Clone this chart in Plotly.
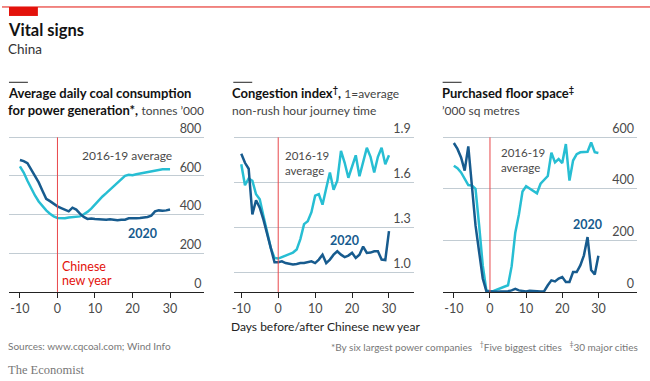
import plotly.graph_objects as go

# ---------------- data ----------------
days = [-10, -9, -8, -7, -6, -5, -4, -3, -2, -1, 0,
        1, 2, 3, 4, 5, 6, 7, 8, 9, 10,
        11, 12, 13, 14, 15, 16, 17, 18, 19, 20,
        21, 22, 23, 24, 25, 26, 27, 28, 29, 30]
cny_day = 0

coal_avg = [650, 618, 575, 533, 499, 468, 443, 422, 405, 391, 383,
            383, 381, 385, 386, 388, 391, 402, 414, 431, 453,
            473, 494, 511, 528, 550, 567, 584, 601, 606, 604,
            609, 613, 614, 621, 623, 630, 633, 635, 635, 635]
coal_2020 = [683, 677, 666, 635, 601, 567, 524, 482, 470, 456, 443,
             434, 426, 417, 436, 426, 405, 388, 378, 380, 378,
             376, 373, 374, 376, 374, 371, 373, 374, 381, 380,
             381, 383, 386, 388, 395, 417, 422, 420, 422, 427]

cong_avg = [1.72, 1.58, 1.625, 1.61, 1.52, 1.486, 1.374, 1.26, 1.16, 1.094, 1.09,
            1.10, 1.11, 1.12, 1.13, 1.15, 1.22, 1.32, 1.34, 1.40, 1.51,
            1.52, 1.45, 1.56, 1.665, 1.55, 1.61, 1.81, 1.73, 1.63, 1.71,
            1.78, 1.64, 1.73, 1.83, 1.77, 1.665, 1.77, 1.83, 1.72, 1.78]
cong_2020 = [1.79, 1.73, 1.69, 1.385, 1.48, 1.43, 1.35, 1.26, 1.16, 1.065, 1.065,
             1.072, 1.06, 1.056, 1.05, 1.054, 1.06, 1.06, 1.065, 1.072, 1.06,
             1.083, 1.116, 1.06, 1.083, 1.116, 1.139, 1.116, 1.10, 1.11, 1.128,
             1.094, 1.116, 1.17, 1.128, 1.13, 1.139, 1.139, 1.083, 1.08, 1.273]

floor_avg = [490, 480, 464, 441, 415, 413, 400, 258, 103, 6, 3,
             4, 10, 17, 21, 26, 100, 230, 300, 390, 410,
             400, 392, 383, 420, 435, 450, 540, 503, 516, 500,
             574, 432, 510, 535, 542, 542, 544, 580, 542, 539]
floor_2020 = [578, 555, 522, 471, 565, 413, 258, 155, 52, 3, 2,
              2, 1, 2, 2, 3, 6, 12, 6, 3, 2,
              5, 5, 3, 2, 3, 26, 45, 41, 52, 58,
              39, 39, 77, 77, 103, 142, 213, 85, 68, 140]

x_ticks = [-10, 0, 10, 20, 30]
x_labels = ["-10", "0", "10", "20", "30"]
coal_ticks = [0, 200, 400, 600, 800]
cong_ticks = [1.0, 1.3, 1.6, 1.9]
cong_labels = ["1.0", "1.3", "1.6", "1.9"]
floor_ticks = [0, 200, 400, 600]

# ---------------- style ----------------
W, H = 650, 381
FONT = "Lato, Roboto, Arial, sans-serif"
CYAN = "#27BED3"
DARK = "#175B8E"
RED = "#E3120B"
GRID = "#C2CCD3"
GREY = "#4a4a4a"


def px(x):
    return x / W


def py(y):
    return 1 - y / H


# pixel geometry: baseline y=291.7, top gridline y=136.7, plot top leaves room for label
BASE_Y, TOPGRID_Y, PLOT_TOP = 291.7, 136.7, 121.0

panels = [
    dict(avg=coal_avg, cur=coal_2020, ticks=coal_ticks, labels=None, ylo=0, yhi=800,
         xd=(7, 203), xr=[-12.92, 39.15]),
    dict(avg=cong_avg, cur=cong_2020, ticks=cong_ticks, labels=cong_labels, ylo=0.867, yhi=1.9,
         xd=(232.5, 413), xr=[-12.03, 36.7]),
    dict(avg=floor_avg, cur=floor_2020, ticks=floor_ticks, labels=None, ylo=0, yhi=600,
         xd=(442, 637), xr=[-13.1, 40.7]),
]

fig = go.Figure()
ydom = [py(BASE_Y), py(PLOT_TOP)]

for i, p in enumerate(panels, start=1):
    xa = "x" if i == 1 else f"x{i}"
    ya = "y" if i == 1 else f"y{i}"
    per_px = (p["yhi"] - p["ylo"]) / (BASE_Y - TOPGRID_Y)
    ytop = p["yhi"] + per_px * (TOPGRID_Y - PLOT_TOP)
    fig.add_trace(go.Scatter(x=days, y=p["avg"], mode="lines", xaxis=xa, yaxis=ya,
                             line=dict(color=CYAN, width=2.5), hoverinfo="skip",
                             showlegend=False))
    fig.add_trace(go.Scatter(x=days, y=p["cur"], mode="lines", xaxis=xa, yaxis=ya,
                             line=dict(color=DARK, width=2.5), hoverinfo="skip",
                             showlegend=False))
    suffix = "" if i == 1 else str(i)
    fig.layout["xaxis" + suffix] = dict(
        domain=[px(p["xd"][0]), px(p["xd"][1])], range=p["xr"], anchor=ya,
        tickvals=x_ticks, ticktext=x_labels, ticks="outside", ticklen=5, tickwidth=1,
        tickcolor="#222", showline=True, linecolor="#222", linewidth=1,
        showgrid=False, zeroline=False,
        tickfont=dict(family=FONT, size=12.5, color=GREY), fixedrange=True)
    yax = dict(
        domain=ydom, range=[p["ylo"], ytop], anchor=xa, side="right",
        tickvals=p["ticks"], ticklabelposition="inside top", ticklabeloverflow="allow",
        ticks="", showline=False, zeroline=False,
        showgrid=True, gridcolor=GRID, gridwidth=1,
        tickfont=dict(family=FONT, size=12.5, color=GREY), fixedrange=True)
    if p["labels"]:
        yax["ticktext"] = p["labels"]
    fig.layout["yaxis" + suffix] = yax
    # Chinese new year marker
    fig.add_shape(type="line", xref=xa, yref=ya, x0=cny_day, x1=cny_day,
                  y0=p["ylo"], y1=p["yhi"], line=dict(color="#E8474B", width=1),
                  layer="above")

# ---------------- decorations ----------------
shapes = [
    dict(type="line", xref="paper", yref="paper", x0=0, x1=1, y0=py(6), y1=py(6),
         line=dict(color=RED, width=1)),
    dict(type="rect", xref="paper", yref="paper", x0=px(7), x1=px(36), y0=py(15), y1=py(6),
         line=dict(width=0), fillcolor=RED),
]
for x0 in (7, 232, 442):
    shapes.append(dict(type="line", xref="paper", yref="paper", x0=px(x0), x1=px(x0 + 19),
                       y0=py(81.5), y1=py(81.5), line=dict(color="#222", width=1)))
for s in shapes:
    fig.add_shape(**s)


def ann(text, x, y, size=13, color="#121212", xanchor="left", family=FONT):
    fig.add_annotation(text=text, x=px(x), y=py(y), xref="paper", yref="paper",
                       xanchor=xanchor, yanchor="middle", showarrow=False, align=xanchor,
                       font=dict(family=family, size=size, color=color))


ann("<b>Vital signs</b>", 4, 29, size=16.5)
ann("China", 4, 48, size=13.5, color="#333")

SUB = "<span style='font-size:12px;color:#444'>%s</span>"
ann("<b>Average daily coal consumption</b>", 4, 92, size=13)
ann("<b>for power generation*,</b> " + SUB % "tonnes ’000", 4, 109, size=13)
ann("<b>Congestion index<sup>†</sup>,</b> " + SUB % "1=average", 229, 92, size=13)
ann("non-rush hour journey time", 229, 110, size=12, color="#444")
ann("<b>Purchased floor space<sup>‡</sup></b>", 439, 92, size=13)
ann("’000 sq metres", 439, 110, size=12, color="#444")

# series labels
ann("2016-19 average", 78, 155, size=12, color=GREY)
ann("<b>2020</b>", 124, 233, size=12.5, color=DARK)
ann("Chinese", 58, 266, size=12.5, color=RED)
ann("new year", 58, 280, size=12.5, color=RED)

ann("2016-19<br>average", 282, 162, size=11.5, color=GREY)
ann("<b>2020</b>", 327, 240, size=12.5, color=DARK)

ann("2016-19<br>average", 499, 159.5, size=11.5, color=GREY)
ann("<b>2020</b>", 571, 224, size=12.5, color=DARK)

ann("Days before/after Chinese new year", 324, 326, size=12, color="#222", xanchor="center")
ann("Sources: www.cqcoal.com; Wind Info", 4, 346, size=10, color="#777")
ann("*By six largest power companies   <sup>†</sup>Five biggest cities   <sup>‡</sup>30 major cities",
    640, 346, size=10, color="#777", xanchor="right")
ann("The Economist", 4, 370, size=12.5, color="#777", family="Liberation Serif, DejaVu Serif, serif")

fig.update_layout(width=W, height=H, margin=dict(l=0, r=0, t=0, b=0),
                  paper_bgcolor="white", plot_bgcolor="white", showlegend=False)

fig.write_html("out.html", config={"displayModeBar": False},
               post_script="document.body.style.margin='0px';document.body.style.padding='0px';")
